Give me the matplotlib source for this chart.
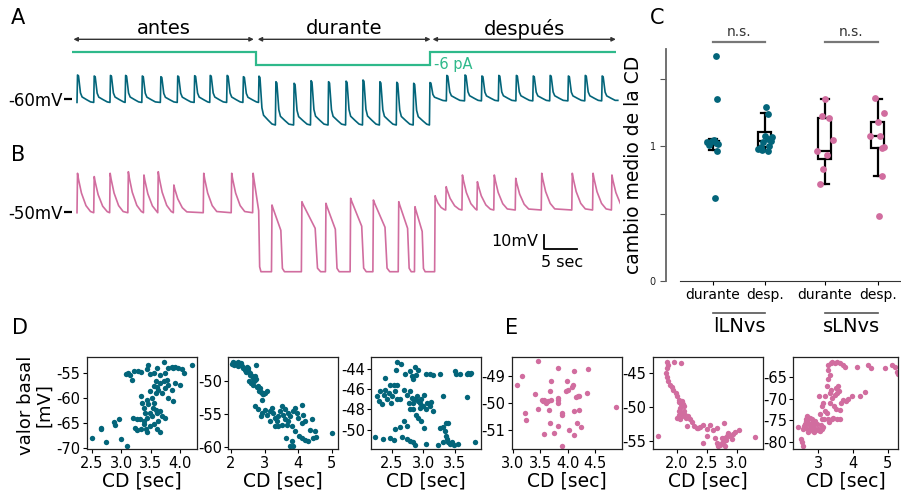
import matplotlib.pyplot as plt

plt.rcParams['font.family'] = 'DejaVu Sans'
plt.rcParams['axes.unicode_minus'] = False

AZUL = '#03657a'
ROSA = '#d16d9f'
VERDE = '#2fb98b'
W, H = 901, 497

# ---------------- datos A / B (tiempos en s, voltajes en mV) ----------------
fases = ['antes', 'durante', 'después']
fases_lim = [(-0.55, 27.2), (27.8, 54.4), (54.7, 82.9)]
corriente_pA = [0, -6, 0]
corriente_bordes = [-0.8, 27.5, 54.3, 82.9]

a_antes_t = [0.08, 2.65, 5.15, 7.48, 10.05, 12.9, 15.5, 18.1, 20.5, 23.1, 25.6]
a_antes_pico = [-43.2, -43.9, -43.5, -43.5, -43.9, -44.4, -43.9, -43.7, -43.5, -43.5, -44.4]
a_dur_t = [28.0, 30.6, 33.4, 36.0, 38.7, 41.4, 44.0, 46.6, 49.2, 51.8]
a_dur_pico = [-44.0, -47.9, -49.0, -47.2, -47.9, -47.5, -46.7, -47.9, -48.3, -49.0]
a_des_t = [54.3, 56.9, 59.7, 62.3, 64.9, 67.6, 70.2, 72.8, 75.6, 78.2, 80.8]
a_des_pico = [-48.5, -43.5, -43.2, -43.9, -43.5, -43.5, -43.9, -43.5, -43.9, -43.5, -43.9]
a_bases = [-62.4, -78.2, -61.3]

b_antes_t = [0.08, 2.65, 5.1, 7.9, 10.3, 12.5, 14.9, 19.5, 23.8]
b_antes_pico = [-23.1, -25.4, -23.1, -22.0, -24.3, -22.0, -31.3, -23.1, -23.1]
b_dur_t = [27.1, 30.0, 34.6, 38.3, 42.1, 45.6, 49.5, 52.0]
b_dur_pico = [-23.1, -45.3, -43.0, -44.1, -40.6, -41.8, -43.0, -46.5]
b_dur_ancho = [1.0, 1.6, 2.4, 1.7, 2.0, 2.1, 1.6, 1.3]
b_des_t = [55.1, 56.8, 59.3, 61.6, 64.2, 67.5, 71.5, 76.2, 79.4, 82.3]
b_des_pico = [-38.8, -32.5, -24.3, -29.0, -24.3, -26.6, -23.1, -23.1, -23.1, -24.3]
b_des_ancho = [0.7, 1, 1, 1, 1, 1, 1, 1, 1, 1]
b_bases = [-50.7, -92.0, -48.8]
t_fin = 83.2

# forma de cada disparo: (tiempo relativo, fraccion de amplitud)
forma_a = [(0.0, 1.0), (0.15, 0.97), (0.45, 0.35), (0.7, 0.2), (1.4, 0.1), (2.0, 0.02)]
forma_b = [(0.0, 1.0), (0.15, 0.85), (0.6, 0.5), (1.3, 0.18), (2.0, 0.03)]
forma_b_dur = [(0.0, 1.0), (0.1, 0.95), (0.85, 0.62), (1.0, 0.05), (1.2, 0.0)]

# ---------------- datos C ----------------
pos_c = [1, 2, 3.15, 4.17]
c_etiquetas = ['durante', 'desp.', 'durante', 'desp.']
c_colores = [AZUL, AZUL, ROSA, ROSA]
c_med = [1.027, 1.039, 0.966, 1.076]
c_q1 = [1.015, 0.990, 0.904, 0.983]
c_q3 = [1.039, 1.108, 1.207, 1.181]
c_lo = [0.973, 0.966, 0.719, 0.781]
c_hi = [1.051, 1.246, 1.350, 1.353]
lln_dur_off = [0.06, 0.07, -0.12, -0.07, -0.02, 0.02, 0.06, 0.10, 0.08, 0.03]
lln_dur_val = [1.67, 1.35, 1.027, 1.01, 1.04, 1.045, 1.025, 1.015, 0.965, 0.615]
lln_des_off = [0.03, 0.05, 0.0, 0.14, 0.05, 0.11, -0.04, -0.13, -0.05, 0.06, -0.08, 0.08]
lln_des_val = [1.289, 1.24, 1.076, 1.068, 1.051, 1.039, 1.032, 0.978, 0.973, 0.966, 0.99, 1.002]
sln_dur_off = [0.0, -0.05, 0.08, 0.17, -0.14, 0.04, -0.03, -0.09]
sln_dur_val = [1.35, 1.224, 1.207, 1.048, 0.963, 0.931, 0.83, 0.719]
sln_des_off = [-0.06, 0.13, 0.0, -0.15, 0.04, 0.12, 0.08, 0.09, 0.03]
sln_des_val = [1.358, 1.243, 1.18, 1.076, 1.076, 0.99, 0.983, 0.781, 0.48]

# ---------------- datos D / E ----------------
d1_cd = [2.50, 2.65, 2.66, 2.73, 2.88, 2.89, 2.96, 3.00, 3.10,
         3.08, 3.11, 3.14, 3.18, 3.22, 3.28, 3.34, 3.43, 3.46, 3.49, 3.55, 3.60, 3.73, 3.80, 3.86, 3.91,
         3.97, 4.03, 4.06, 4.20, 3.88,
         3.33, 3.35, 3.38, 3.40, 3.32, 3.23, 3.20, 3.26, 3.39, 3.42, 3.44, 3.49, 3.52, 3.53, 3.55, 3.52,
         3.58, 3.60, 3.66, 3.72, 3.77, 3.63, 3.69, 3.74, 3.80, 3.86, 3.91, 4.00, 3.88, 3.80, 3.58, 3.60,
         3.66, 3.69, 3.74, 3.63, 3.55, 3.60, 3.66, 3.48, 3.44, 3.38, 3.46, 3.43, 3.49, 3.55, 3.66, 3.74,
         3.58, 3.26, 3.34]
d1_vb = [-68.0, -66.2, -65.9, -68.8, -64.7, -65.3, -64.2, -68.2, -69.5,
         -55.1, -54.9, -55.4, -56.3, -54.6, -54.6, -54.7, -54.1, -53.4, -55.1, -54.9, -53.9, -52.7, -53.9,
         -53.8, -53.8, -54.0, -54.1, -54.9, -53.3, -54.0,
         -59.5, -60.9, -61.9, -62.9, -64.2, -65.9, -63.9, -64.2, -65.2, -66.2, -66.8, -65.5, -63.6, -61.9,
         -60.9, -59.9, -58.9, -57.8, -57.0, -56.6, -56.3, -58.3, -58.9, -58.0, -57.3, -58.3, -57.0, -57.3,
         -60.6, -59.9, -62.3, -62.9, -62.6, -63.6, -63.9, -64.5, -65.2, -66.2, -66.8, -62.9, -63.9, -64.5,
         -61.2, -60.3, -58.6, -57.6, -55.3, -55.0, -56.6, -66.3, -66.2]

d2_cd = [2.04, 2.10, 2.17, 2.22, 2.27, 2.32, 2.37, 2.42, 2.47, 2.52, 2.56, 2.76, 2.72, 2.62, 2.54, 2.60,
         2.66, 2.72, 2.76, 2.81, 2.86, 2.83, 2.91, 3.01, 3.06, 2.96, 2.91, 2.72, 2.81, 2.91, 2.89, 3.01,
         3.06, 3.16, 3.21, 3.26, 3.31, 3.36, 3.41, 3.46, 3.51, 3.56, 3.61, 3.66, 3.71, 3.76, 3.81, 3.86,
         3.91, 3.96, 4.01, 4.11, 4.16, 4.20, 4.11, 3.41, 3.31, 3.16, 3.51, 3.63, 3.81, 3.86, 3.76, 4.03,
         4.11, 4.20, 4.30, 4.45, 4.40, 4.35, 4.50, 4.52, 5.02, 3.71, 3.61, 3.91,
         2.07, 2.13, 2.20, 2.30, 2.45, 2.50, 2.58, 2.65, 2.70, 2.78, 2.88, 2.95]
d2_vb = [-47.3, -47.5, -47.2, -47.0, -47.3, -47.6, -48.0, -48.2, -47.8, -48.3, -48.7, -47.5, -49.1, -49.2,
         -50.0, -50.3, -50.5, -49.8, -49.6, -50.7, -51.0, -51.5, -51.7, -51.7, -51.4, -52.0, -52.9, -53.8,
         -54.2, -54.8, -55.3, -54.4, -55.1, -54.6, -54.1, -54.9, -55.6, -56.1, -55.3, -54.6, -53.7, -55.1,
         -55.8, -56.6, -56.1, -55.3, -56.9, -54.6, -54.1, -54.9, -55.6, -53.6, -55.1, -56.1, -56.4, -56.9,
         -56.8, -56.1, -56.6, -58.6, -59.1, -59.9, -59.9, -58.3, -58.6, -58.9, -59.1, -58.6, -55.8, -57.4,
         -57.6, -58.5, -57.9, -54.8, -54.2, -57.6,
         -47.0, -47.1, -47.6, -47.1, -48.6, -48.0, -49.0, -49.5, -50.0, -50.9, -51.6, -51.9]

d3_cd = [2.24, 2.40, 2.26, 2.29, 2.32, 2.34, 2.37, 2.40, 2.42, 2.45, 2.48, 2.50, 2.53, 2.55, 2.58, 2.49,
         2.58, 2.63, 2.36, 2.48, 2.53, 2.55, 2.63, 2.69, 2.75, 2.66, 2.74, 2.79, 2.84, 2.87, 2.58, 2.64,
         2.57, 2.71, 2.79, 2.87, 2.91, 2.89, 2.84, 2.82, 2.69, 2.74, 2.79, 2.82, 2.84, 2.87, 2.90, 2.92,
         2.95, 2.97, 2.78, 2.79, 2.84, 2.89, 2.92, 2.95, 3.00, 3.05, 3.11, 3.02, 3.06, 3.12, 3.16, 2.97,
         3.02, 3.05, 3.05, 3.11, 3.16, 3.26, 3.32, 3.24, 3.26, 3.32, 3.36, 3.40, 3.34, 3.36, 3.38, 3.40,
         3.43, 3.46, 3.49, 3.32, 3.55, 3.50, 3.52, 3.58, 3.69, 3.71, 3.74, 3.76, 3.70, 3.82]
d3_vb = [-50.7, -44.9, -46.7, -47.2, -46.2, -47.5, -46.6, -46.1, -47.0, -46.4, -45.6, -46.7, -45.6, -46.2,
         -45.6, -47.4, -47.0, -47.0, -50.9, -50.8, -51.0, -49.9, -49.7, -49.1, -49.6, -50.7, -50.9, -51.1,
         -51.2, -51.5, -43.4, -43.6, -44.1, -44.5, -44.2, -43.8, -44.1, -44.6, -45.0, -44.7, -46.1, -46.6,
         -46.2, -46.9, -47.4, -47.0, -46.7, -47.2, -47.4, -47.0, -47.4, -48.0, -48.0, -48.5, -48.8, -47.9,
         -47.7, -48.0, -47.7, -46.6, -47.4, -47.3, -48.2, -49.1, -49.8, -51.4, -44.5, -44.5, -44.6, -44.5,
         -46.7, -51.5, -49.8, -49.7, -49.3, -49.3, -50.1, -50.6, -50.9, -51.2, -51.4, -51.2, -51.5, -51.2,
         -51.4, -44.2, -44.5, -44.5, -44.5, -44.4, -44.5, -44.4, -46.8, -51.2]

e1_cd = [3.08, 3.16, 3.22, 3.24, 3.45, 3.41, 3.45, 3.53, 3.55, 3.57, 3.61, 3.64, 3.65, 3.67, 3.69, 3.70,
         3.67, 3.75, 3.57, 3.82, 3.82, 3.82, 3.82, 3.83, 3.89, 3.90, 3.90, 3.97, 3.99, 4.00, 4.03, 4.07,
         4.11, 4.11, 4.12, 4.15, 4.18, 4.20, 4.17, 4.21, 4.24, 4.34, 4.37, 4.88, 4.09]
e1_vb = [-49.34, -49.0, -50.35, -50.62, -48.45, -49.65, -50.2, -49.86, -49.92, -49.88, -49.98, -49.92,
         -50.25, -49.53, -49.88, -49.18, -50.74, -51.09, -51.15, -48.69, -49.8, -49.88, -49.98, -50.84,
         -50.37, -50.45, -51.58, -49.55, -49.18, -49.49, -50.99, -49.39, -48.82, -50.29, -51.17, -49.76,
         -49.74, -50.23, -50.72, -49.74, -50.87, -49.61, -48.73, -50.13, -49.34]

e2_cd = [1.68, 1.84, 1.86, 1.96, 2.07, 1.83, 1.82, 1.83, 1.85, 1.88, 1.92, 1.94, 1.99, 2.01, 2.03, 2.04,
         2.07, 2.08, 2.11, 2.12, 2.06, 2.04, 2.03, 2.01, 2.06, 2.08, 2.10, 2.12, 2.14, 2.16, 2.19, 2.22,
         2.25, 2.17, 2.28, 2.33, 2.39, 2.44, 2.36, 2.51, 2.56, 2.60, 2.67, 2.44, 2.51, 2.64, 2.67, 2.69,
         2.72, 2.75, 2.78, 2.79, 2.82, 2.84, 2.86, 2.89, 2.92, 2.94, 2.97, 3.03, 2.79, 2.81, 3.31, 2.69,
         2.75]
e2_vb = [-54.2, -43.3, -43.8, -43.4, -43.5, -44.3, -44.9, -45.5, -46.2, -46.7, -47.0, -47.4, -47.9, -48.4,
         -48.9, -49.3, -49.5, -49.1, -49.5, -49.9, -50.1, -50.6, -51.1, -51.6, -51.8, -51.3, -50.9, -50.5,
         -51.1, -51.6, -51.3, -51.8, -52.2, -52.8, -52.7, -53.0, -52.9, -52.6, -53.1, -53.2, -52.6, -53.3,
         -53.0, -55.2, -54.2, -54.5, -55.2, -55.7, -55.5, -55.2, -55.0, -54.5, -54.8, -54.3, -53.8, -54.2,
         -54.7, -54.0, -53.7, -53.4, -52.3, -55.7, -54.4, -55.6, -54.6]

e3_cd = [2.42, 2.49, 2.52, 2.55, 2.57, 2.62, 2.66, 2.68, 2.71, 2.74, 2.76, 2.81, 2.84, 2.86, 2.90, 2.95,
         3.00, 3.05, 3.10, 3.14, 2.64, 2.76, 3.03, 3.05, 3.10, 3.14, 3.19, 3.10, 3.16, 3.24, 3.29, 3.34,
         3.34, 3.38, 3.41, 3.45, 3.48, 3.51, 3.55, 3.58, 3.61, 3.43, 3.53, 3.62, 3.64, 3.67, 3.72, 3.80,
         3.87, 3.96, 4.20, 4.35, 3.29, 3.29, 3.29, 3.36, 3.41, 3.48, 3.55, 3.64, 3.72, 3.77, 4.12, 4.44,
         4.51, 4.92, 5.12, 5.21, 5.26, 5.31, 3.34, 3.24,
         2.60, 2.70, 2.78, 2.88, 2.92, 2.98, 2.70, 2.65, 2.83, 3.08, 3.32, 3.40, 3.50, 3.20]
e3_vb = [-76.6, -79.2, -80.0, -80.9, -77.1, -75.9, -75.2, -74.0, -74.8, -75.9, -77.1, -75.6, -77.5, -76.3,
         -76.9, -75.9, -76.9, -77.5, -77.1, -76.5, -76.7, -74.4, -69.4, -73.6, -71.7, -71.0, -69.4, -74.8,
         -74.8, -73.3, -74.8, -71.0, -68.7, -67.9, -69.8, -71.7, -69.1, -67.5, -68.7, -67.1, -68.3, -74.4,
         -74.8, -74.8, -72.5, -71.0, -70.2, -70.6, -70.0, -69.4, -69.4, -68.5, -65.5, -63.3, -62.2, -61.8,
         -61.4, -61.8, -61.6, -61.8, -62.2, -62.7, -62.6, -62.2, -62.9, -62.9, -62.2, -62.6, -63.7, -64.2,
         -64.5, -67.0,
         -76.2, -75.5, -76.5, -77.8, -75.2, -77.2, -77.8, -74.6, -74.8, -76.0, -75.3, -74.6, -72.4, -72.8]


def caja(x0, y0, x1, y1):
    return [x0 / W, 1 - y1 / H, (x1 - x0) / W, (y1 - y0) / H]


def segmento(tiempos, picos, base, nivel_previo, forma, anchos=None):
    t, v = [], []
    nivel = nivel_previo
    if anchos is None:
        anchos = [1.0] * len(tiempos)
    for ts, pk, w in zip(tiempos, picos, anchos):
        t.append(ts - 0.08)
        v.append(nivel)
        for dt, f in forma:
            t.append(ts + dt * w)
            v.append(base + f * (pk - base))
        nivel = base
    return t, v


def traza(partes):
    t, v = [], []
    for p in partes:
        tt, vv = segmento(*p)
        t += tt
        v += vv
    if t[-1] < t_fin:
        t.append(t_fin)
        v.append(v[-1])
    return t, v


fig = plt.figure(figsize=(9.01, 4.97), dpi=100)
T_LIM = (-0.77, 83.54)

# ---- A: estimulo y fases
ax_s = fig.add_axes(caja(72, 12, 620, 72))
ax_s.stairs(corriente_pA, corriente_bordes, baseline=None, color=VERDE, lw=1.6)
ax_s.set_xlim(T_LIM)
ax_s.set_ylim(-9.13, 17.9)
ax_s.axis('off')
tr = ax_s.get_xaxis_transform()
for nombre, (t0, t1) in zip(fases, fases_lim):
    ax_s.annotate('', xy=(t0, 0.545), xytext=(t1, 0.545), xycoords=tr,
                  arrowprops=dict(arrowstyle='<|-|>', color='#333333', lw=1.0,
                                  mutation_scale=6, shrinkA=0, shrinkB=0))
    ax_s.text((t0 + t1) / 2, 0.717, nombre, transform=tr, ha='center', va='center', fontsize=14)
ax_s.text(54.9, -5.6, '-6 pA', color=VERDE, fontsize=10.5, ha='left', va='center', clip_on=False)

# ---- A: traza
ta, va = traza([(a_antes_t, a_antes_pico, a_bases[0], a_bases[0], forma_a),
                (a_dur_t, a_dur_pico, a_bases[1], a_bases[0], forma_a),
                (a_des_t, a_des_pico, a_bases[2], a_bases[1], forma_a)])
ax_a = fig.add_axes(caja(72, 68, 620, 135))
ax_a.plot(ta, va, color=AZUL, lw=1.2)
ax_a.set_xlim(T_LIM)
ax_a.set_ylim(-85.2, -38.3)

# ---- B: traza
tb, vb = traza([(b_antes_t, b_antes_pico, b_bases[0], b_bases[0], forma_b),
                (b_dur_t, b_dur_pico, b_bases[1], b_bases[0], forma_b_dur, b_dur_ancho),
                (b_des_t, b_des_pico, b_bases[2], b_bases[1], forma_b, b_des_ancho)])
ax_b = fig.add_axes(caja(72, 165, 620, 285))
ax_b.plot(tb, vb, color=ROSA, lw=1.2)
ax_b.set_xlim(T_LIM)
ax_b.set_ylim(-101.3, -17.3)
# barra de escala 10 mV / 5 s
ax_b.plot([71.9, 71.9, 76.9], [-66.3, -76.3, -76.3], color='black', lw=1.3)
ax_b.text(70.9, -70.8, '10mV', ha='right', va='center', fontsize=11.5)
ax_b.text(74.6, -85.5, '5 sec', ha='center', va='center', fontsize=11.5)

for ax, ref, lab in [(ax_a, -60, '-60mV'), (ax_b, -50, '-50mV')]:
    ax.patch.set_visible(False)
    for s in ax.spines.values():
        s.set_visible(False)
    ax.set_xticks([])
    ax.set_yticks([ref], [lab])
    ax.tick_params(axis='y', length=6, width=1.6, pad=1, labelsize=12)

# ---- C
ax_c = fig.add_axes(caja(666, 49, 900, 281))
stats = [dict(med=m, q1=a, q3=b, whislo=lo, whishi=hi, fliers=[])
         for m, a, b, lo, hi in zip(c_med, c_q1, c_q3, c_lo, c_hi)]
ax_c.bxp(stats, positions=pos_c, widths=0.25, showfliers=False, patch_artist=True,
         boxprops=dict(facecolor='white', edgecolor='black', lw=1.6),
         medianprops=dict(color='black', lw=1.6),
         whiskerprops=dict(color='black', lw=1.6),
         capprops=dict(color='black', lw=1.6), capwidths=0.16)
for p, offs, vals, col in zip(pos_c, [lln_dur_off, lln_des_off, sln_dur_off, sln_des_off],
                              [lln_dur_val, lln_des_val, sln_dur_val, sln_des_val], c_colores):
    ax_c.scatter([p + o for o in offs], vals, s=24, color=col, lw=0, zorder=3)
ax_c.set_xlim(0.096, 4.6)
ax_c.set_ylim(0, 1.72)
ax_c.set_yticks([0, 0.5, 1, 1.5], ['0', '', '1', ''])
ax_c.set_xticks(pos_c, c_etiquetas)
ax_c.tick_params(axis='y', colors='#555555', labelcolor='#222222', labelsize=7, length=4)
ax_c.tick_params(axis='x', length=3, labelsize=10, pad=2)
for s in ['top', 'right']:
    ax_c.spines[s].set_visible(False)
ax_c.spines['left'].set_color('#666666')
ax_c.spines['bottom'].set_color('#333333')
ax_c.spines['left'].set_linewidth(1.3)
ax_c.spines['bottom'].set_bounds(0.37, 4.6)
ax_c.set_ylabel('cambio medio de la CD', fontsize=13.5, labelpad=5)
trc = ax_c.get_xaxis_transform()
for (i, j), grupo in zip([(0, 1), (2, 3)], ['lLNvs', 'sLNvs']):
    ax_c.plot([pos_c[i], pos_c[j]], [1.03, 1.03], transform=trc, color='#777777', lw=1.6, clip_on=False)
    ax_c.text((pos_c[i] + pos_c[j]) / 2, 1.075, 'n.s.', transform=trc, ha='center', va='center',
              fontsize=10, color='#333333')
    ax_c.plot([pos_c[i], pos_c[j]], [-0.138, -0.138], transform=trc, color='#555555', lw=1.2, clip_on=False)
    ax_c.text((pos_c[i] + pos_c[j]) / 2, -0.198, grupo, transform=trc, ha='center', va='center', fontsize=14)

# ---- D / E
paneles = [
    ((86.7, 196.7), d1_cd, d1_vb, AZUL, (2.41, 4.28), (-70.2, -51.8), [2.5, 3.0, 3.5, 4.0], [-55, -60, -65, -70]),
    ((228.3, 337.7), d2_cd, d2_vb, AZUL, (1.92, 5.18), (-60.4, -46.3), [2, 3, 4, 5], [-50, -55, -60]),
    ((371, 481), d3_cd, d3_vb, AZUL, (2.17, 3.92), (-51.9, -42.9), [2.5, 3.0, 3.5], [-44, -46, -48, -50]),
    ((511.7, 622.3), e1_cd, e1_vb, ROSA, (2.98, 4.99), (-51.7, -48.3), [3.0, 3.5, 4.0, 4.5], [-49, -50, -51]),
    ((652.7, 762.7), e2_cd, e2_vb, ROSA, (1.6, 3.43), (-56.2, -42.66), [2.0, 2.5, 3.0], [-45, -50, -55]),
    ((793.3, 898), e3_cd, e3_vb, ROSA, (2.28, 5.3), (-81.7, -60.4), [3, 4, 5], [-65, -70, -75, -80]),
]
for (x0, x1), cd, vbas, col, xl, yl, xt, yt in paneles:
    ax = fig.add_axes(caja(x0, 357.3, x1, 449.3))
    ax.scatter(cd, vbas, s=15, color=col, lw=0)
    ax.set_xlim(xl)
    ax.set_ylim(yl)
    ax.set_xticks(xt)
    ax.set_yticks(yt)
    ax.tick_params(labelsize=10.5, length=3, width=0.8, pad=1.5)
    for s in ax.spines.values():
        s.set_linewidth(0.9)
        s.set_color('#222222')
    ax.set_xlabel('CD [sec]', fontsize=13.5, labelpad=1)

fig.text(35 / W, 1 - 405 / H, 'valor basal\n[mV]', rotation=90, ha='center', va='center',
         fontsize=13, linespacing=1.0)

for letra, (x, y) in zip('ABCDE', [(18, 18), (18, 155), (657, 18), (20, 328), (512, 328)]):
    fig.text(x / W, 1 - y / H, letra, ha='center', va='center', fontsize=15)

fig.savefig('out.png', dpi=100)
